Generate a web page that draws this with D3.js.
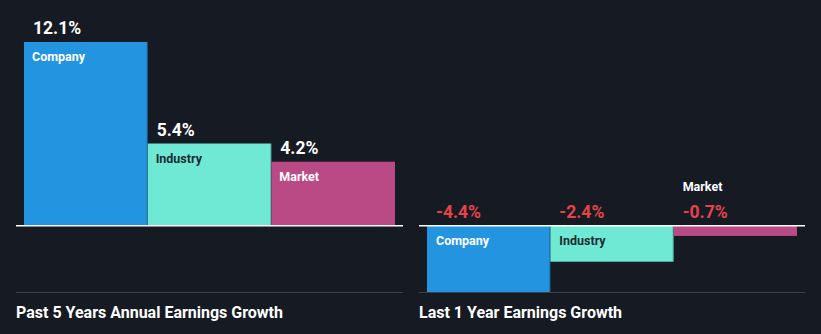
<!DOCTYPE html>
<html><head><meta charset="utf-8">
<script src="https://cdn.jsdelivr.net/npm/d3@7"></script>
<style>
html,body{margin:0;padding:0;background:#151a23;}
svg{display:block;font-family:Roboto,"Noto Sans",sans-serif;}
</style></head>
<body><svg id="c" width="821" height="334"></svg>
<script>
const categories = ["Company", "Industry", "Market"];
const past5Years = [12.1, 5.4, 4.2];
const last1Year = [-4.4, -2.4, -0.7];
const panelTitles = ["Past 5 Years Annual Earnings Growth", "Last 1 Year Earnings Growth"];

const colors = {Company:"#2394df", Industry:"#6fe8d4", Market:"#b94a85"};
const labelColors = {Company:"#ffffff", Industry:"#1c2a33", Market:"#ffffff"};
const svg = d3.select("#c");
const W = 821, H = 334;
svg.append("rect").attr("width", W).attr("height", H).attr("fill", "#151a23");

const y = d3.scaleLinear().domain([-4.4, 12.1]).range([292, 42]);
const base = y(0);

const panels = [
  {values: past5Years, title: panelTitles[0], x0: 16, x1: 403, bx0: 24, bx1: 395},
  {values: last1Year, title: panelTitles[1], x0: 419, x1: 805, bx0: 427, bx1: 797}
];

panels.forEach(p => {
  const g = svg.append("g");
  const x = d3.scaleBand().domain(categories).range([p.bx0, p.bx1]).padding(0);
  const data = categories.map((c, i) => ({c, v: p.values[i]}));
  g.selectAll("rect.bar").data(data).join("rect")
    .attr("class", "bar")
    .attr("x", d => x(d.c))
    .attr("width", x.bandwidth())
    .attr("y", d => Math.min(y(d.v), base))
    .attr("height", d => Math.abs(y(d.v) - base))
    .attr("fill", d => colors[d.c]);
  g.selectAll("line.edge").data(data.slice(0, 2)).join("line")
    .attr("x1", d => x(d.c) + x.bandwidth() - 0.5).attr("x2", d => x(d.c) + x.bandwidth() - 0.5)
    .attr("y1", d => Math.min(y(d.v), base)).attr("y2", d => Math.max(y(d.v), base))
    .attr("stroke", "#000").attr("stroke-opacity", 0.25).attr("stroke-width", 1);
  g.append("line").attr("x1", p.x0).attr("x2", p.x1).attr("y1", base + 0.5).attr("y2", base + 0.5)
    .attr("stroke", "#ffffff").attr("stroke-width", 1.5);
  g.append("line").attr("x1", p.x0).attr("x2", p.x1).attr("y1", 292.5).attr("y2", 292.5)
    .attr("stroke", "#3b404a").attr("stroke-width", 1);
  g.append("text").attr("x", p.x0).attr("y", 318).text(p.title)
    .attr("fill", "#ffffff").attr("font-size", 16).attr("font-weight", 700);

  data.forEach(d => {
    const bx = x(d.c) + 9;
    const fmt = d.v.toFixed(1) + "%";
    if (d.v >= 0) {
      g.append("text").attr("x", bx).attr("y", y(d.v) - 8).text(fmt)
        .attr("fill", "#ffffff").attr("font-size", 17.5).attr("font-weight", 700);
      g.append("text").attr("x", bx - 1).attr("y", y(d.v) + 19).text(d.c)
        .attr("fill", labelColors[d.c]).attr("font-size", 12.5).attr("font-weight", 700);
    } else {
      g.append("text").attr("x", bx).attr("y", base - 7).text(fmt)
        .attr("fill", "#e5434a").attr("font-size", 17.5).attr("font-weight", 700);
      const h = y(d.v) - base;
      if (h > 25) {
        g.append("text").attr("x", bx).attr("y", base + 20).text(d.c)
          .attr("fill", labelColors[d.c]).attr("font-size", 12.5).attr("font-weight", 700);
      } else {
        g.append("text").attr("x", bx).attr("y", base - 34).text(d.c)
          .attr("fill", "#ffffff").attr("font-size", 12.5).attr("font-weight", 700);
      }
    }
  });
});
</script></body></html>
